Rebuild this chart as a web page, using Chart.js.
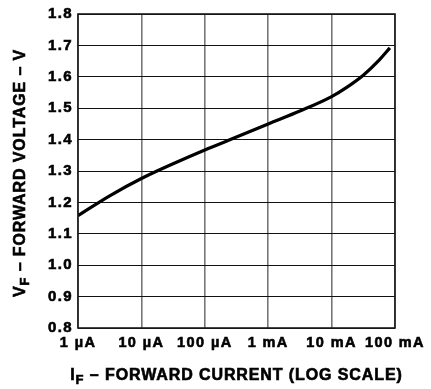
<!DOCTYPE html>
<html>
<head>
<meta charset="utf-8">
<script src="https://cdn.jsdelivr.net/npm/chart.js@4"></script>
<style>
  html, body { margin: 0; padding: 0; background: #fff; }
  #wrap { width: 431px; height: 389px; }
</style>
</head>
<body>
<div id="wrap"><canvas id="c" width="431" height="389"></canvas></div>
<script>
// Forward current (A) and forward voltage (V)
const currentA = [1e-6, 3.16e-6, 1e-5, 3.16e-5, 1e-4, 3.16e-4, 1e-3, 3.16e-3, 1e-2, 1.78e-2, 3.16e-2, 5.62e-2, 8.3e-2];
const voltageV = [1.158, 1.221, 1.276, 1.323, 1.367, 1.408, 1.450, 1.491, 1.537, 1.568, 1.605, 1.653, 1.692];

// Axis ticks
const xTickValues = [1e-6, 1e-5, 1e-4, 1e-3, 1e-2, 1e-1];
const xTickLabels = ['1 µA', '10 µA', '100 µA', '1 mA', '10 mA', '100 mA'];
const yTickValues = [0.8, 0.9, 1.0, 1.1, 1.2, 1.3, 1.4, 1.5, 1.6, 1.7, 1.8];

// Axis titles
const xTitle = { main: 'I', sub: 'F', rest: ' – FORWARD CURRENT (LOG SCALE)' };
const yTitle = { main: 'V', sub: 'F', rest: ' – FORWARD VOLTAGE – V' };

const FONT = '"Liberation Sans", Arial, Helvetica, sans-serif';
const SPACING = '1.4px';

const points = currentA.map((x, i) => ({ x: x, y: voltageV[i] }));

const spacingPlugin = {
  id: 'spacing',
  beforeUpdate(chart) { chart.ctx.letterSpacing = SPACING; },
  beforeDraw(chart) { chart.ctx.letterSpacing = SPACING; }
};

function put(ctx, text, x, y) {
  ctx.fillText(text, x, y);
  ctx.strokeText(text, x, y);
}

function drawTitle(ctx, t, size, subSize, subDrop) {
  ctx.font = 'bold ' + size + 'px ' + FONT;
  const w1 = ctx.measureText(t.main).width;
  ctx.font = 'bold ' + subSize + 'px ' + FONT;
  const w2 = ctx.measureText(t.sub).width;
  ctx.font = 'bold ' + size + 'px ' + FONT;
  const w3 = ctx.measureText(t.rest).width;
  const total = w1 + w2 + w3;
  let x = -total / 2;
  ctx.textAlign = 'left';
  ctx.textBaseline = 'alphabetic';
  put(ctx, t.main, x, 0);
  x += w1;
  ctx.font = 'bold ' + subSize + 'px ' + FONT;
  put(ctx, t.sub, x, subDrop);
  x += w2;
  ctx.font = 'bold ' + size + 'px ' + FONT;
  put(ctx, t.rest, x, 0);
}

const framePlugin = {
  id: 'frame',
  afterDraw(chart) {
    const { ctx, chartArea: a } = chart;
    ctx.save();
    ctx.strokeStyle = '#1a1a1a';
    ctx.lineWidth = 1.6;
    ctx.strokeRect(a.left, a.top, a.right - a.left, a.bottom - a.top);
    ctx.fillStyle = '#000';
    ctx.strokeStyle = '#000';
    ctx.lineWidth = 0.6;
    ctx.letterSpacing = '0.9px';
    // x title
    ctx.save();
    ctx.translate((a.left + a.right) / 2, 380);
    drawTitle(ctx, xTitle, 16, 13, 4);
    ctx.restore();
    // y title
    ctx.save();
    ctx.translate(25, (a.top + a.bottom) / 2 + 2);
    ctx.rotate(-Math.PI / 2);
    drawTitle(ctx, yTitle, 16, 13, 4);
    ctx.restore();
    ctx.restore();
  }
};

new Chart(document.getElementById('c'), {
  type: 'line',
  data: {
    datasets: [{
      data: points,
      borderColor: '#000',
      borderWidth: 3.2,
      pointRadius: 0,
      fill: false,
      cubicInterpolationMode: 'monotone'
    }]
  },
  options: {
    responsive: false,
    animation: false,
    devicePixelRatio: 1,
    layout: { padding: { top: 12, right: 36, left: 0, bottom: 0 } },
    plugins: { legend: { display: false }, tooltip: { enabled: false } },
    scales: {
      x: {
        type: 'logarithmic',
        min: 1e-6,
        max: 1e-1,
        afterBuildTicks(scale) { scale.ticks = xTickValues.map(v => ({ value: v })); },
        afterFit(scale) { scale.height = 61; },
        ticks: {
          autoSkip: false,
          maxRotation: 0,
          padding: 6,
          color: '#000',
          textStrokeColor: '#000',
          textStrokeWidth: 0.6,
          font: { family: FONT, size: 14.5, weight: 'bold' },
          callback(value) {
            const i = xTickValues.findIndex(v => Math.abs(Math.log10(v) - Math.log10(value)) < 1e-6);
            return i >= 0 ? xTickLabels[i] : '';
          }
        },
        grid: { color: '#777', lineWidth: 1.6, drawTicks: false },
        border: { display: false }
      },
      y: {
        type: 'linear',
        min: 0.8,
        max: 1.8,
        afterBuildTicks(scale) { scale.ticks = yTickValues.map(v => ({ value: v })); },
        afterFit(scale) { scale.width = 78; },
        ticks: {
          padding: 5,
          color: '#000',
          textStrokeColor: '#000',
          textStrokeWidth: 0.6,
          font: { family: FONT, size: 15, weight: 'bold' },
          callback(value) { return Number(value).toFixed(1); }
        },
        grid: { color: '#111', lineWidth: 1, drawTicks: false },
        border: { display: false }
      }
    }
  },
  plugins: [spacingPlugin, framePlugin]
});
</script>
</body>
</html>
